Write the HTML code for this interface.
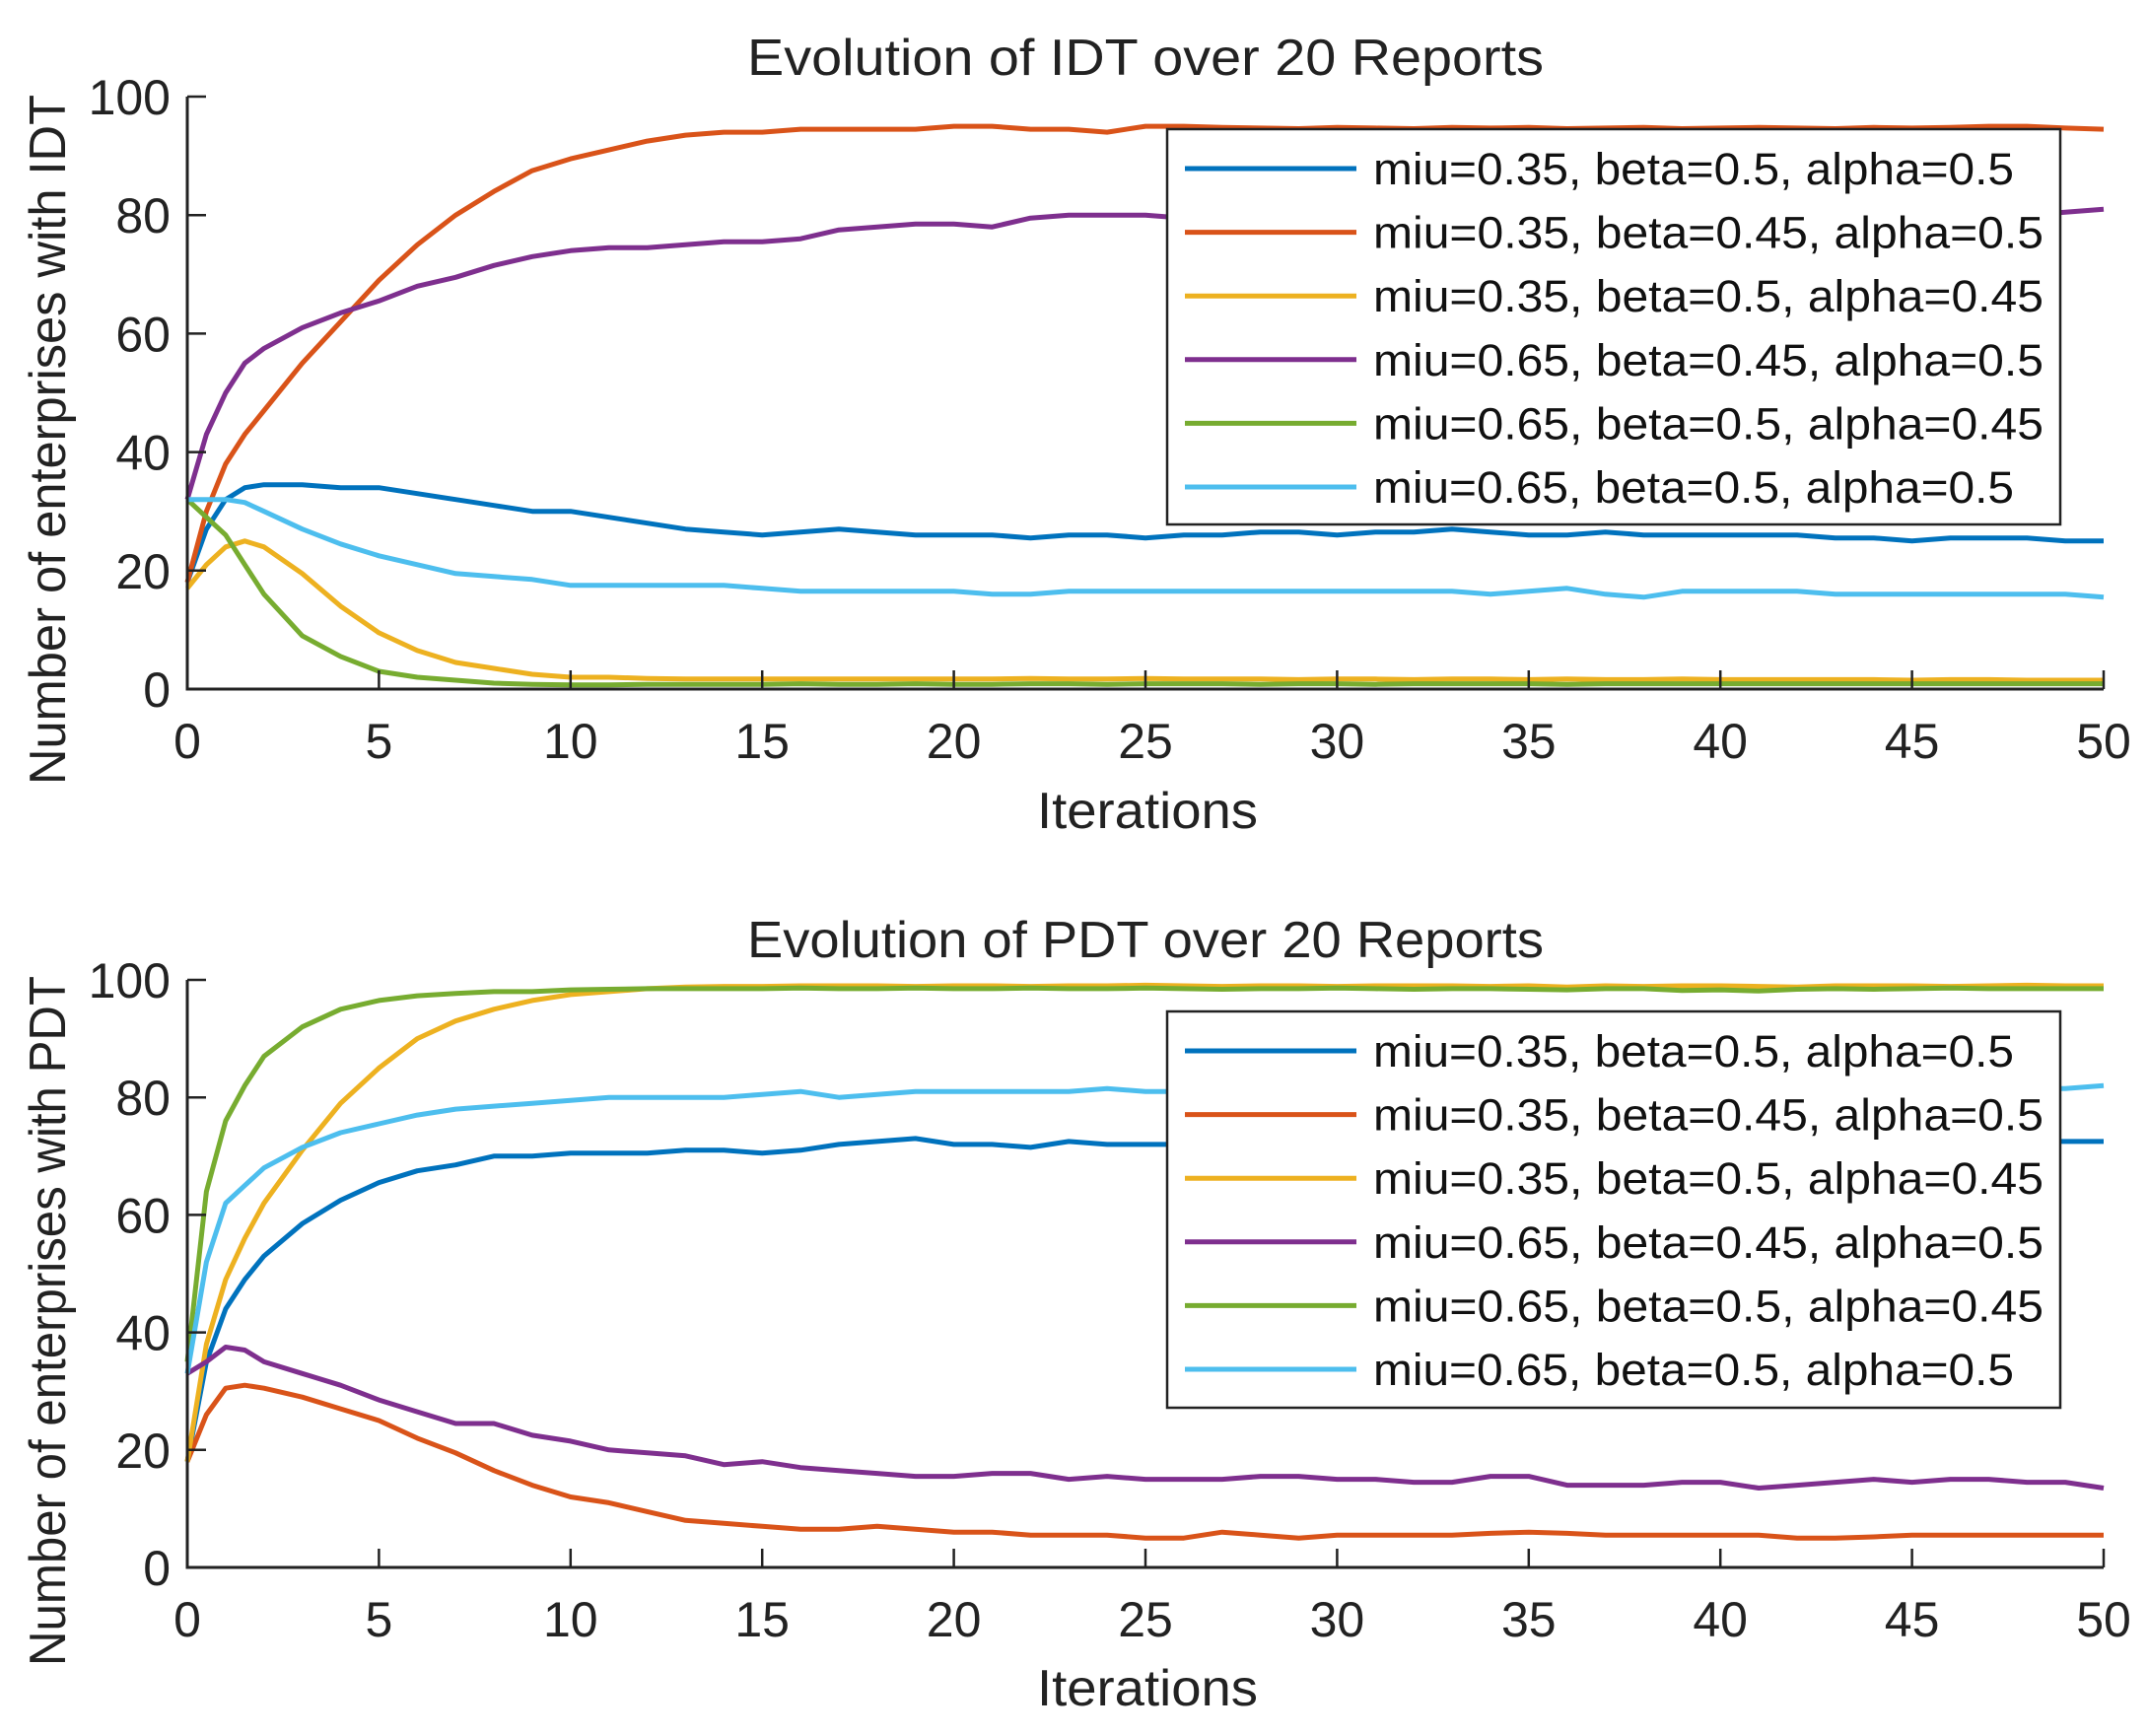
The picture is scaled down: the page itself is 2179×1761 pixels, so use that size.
<!DOCTYPE html>
<html><head><meta charset="utf-8"><style>
html,body{margin:0;padding:0;background:#fff;}
svg{display:block;font-family:"Liberation Sans",Arial,sans-serif;}
</style></head><body>
<svg id="chart" width="2179" height="1761" viewBox="0 0 2179 1761" xmlns="http://www.w3.org/2000/svg"></svg>
<script>
const xs=[0,0.5,1,1.5,2,3,4,5,6,7,8,9,10,11,12,13,14,15,16,17,18,19,20,21,22,23,24,25,26,27,28,29,30,31,32,33,34,35,36,37,38,39,40,41,42,43,44,45,46,47,48,49,50];
const seriesLabels=["miu=0.35, beta=0.5, alpha=0.5","miu=0.35, beta=0.45, alpha=0.5","miu=0.35, beta=0.5, alpha=0.45","miu=0.65, beta=0.45, alpha=0.5","miu=0.65, beta=0.5, alpha=0.45","miu=0.65, beta=0.5, alpha=0.5"];
const colors=["#0072BD","#D95319","#EDB120","#7E2F8E","#77AC30","#4DBEEE"];
const xTicks=[0,5,10,15,20,25,30,35,40,45,50];
const yTicks=[0,20,40,60,80,100];
// IDT
const idtBlue=[18,27,32,34,34.5,34.5,34,34,33,32,31,30,30,29,28,27,26.5,26,26.5,27,26.5,26,26,26,25.5,26,26,25.5,26,26,26.5,26.5,26,26.5,26.5,27,26.5,26,26,26.5,26,26,26,26,26,25.5,25.5,25,25.5,25.5,25.5,25,25];
const idtOrange=[18,30,38,43,47,55,62,69,75,80,84,87.5,89.5,91,92.5,93.5,94,94,94.5,94.5,94.5,94.5,95,95,94.5,94.5,94,95,95,94.8,94.7,94.6,94.8,94.7,94.6,94.8,94.7,94.8,94.6,94.7,94.8,94.6,94.7,94.8,94.7,94.6,94.8,94.7,94.8,95,95,94.7,94.5];
const idtYellow=[17,21,24,25,24,19.5,14,9.5,6.5,4.5,3.5,2.5,2,2,1.8,1.7,1.7,1.7,1.7,1.7,1.7,1.7,1.7,1.7,1.8,1.7,1.7,1.8,1.7,1.7,1.7,1.6,1.7,1.7,1.6,1.7,1.7,1.6,1.7,1.6,1.6,1.7,1.6,1.6,1.6,1.6,1.6,1.5,1.6,1.6,1.5,1.5,1.5];
const idtPurple=[32,43,50,55,57.5,61,63.5,65.5,68,69.5,71.5,73,74,74.5,74.5,75,75.5,75.5,76,77.5,78,78.5,78.5,78,79.5,80,80,80,79.5,79.5,80,80,79.5,80,80,80.5,80,80,80.5,80,80,80.5,80,80,80.5,80,80,80.5,80,80,80,80.5,81];
const idtGreen=[32,29,26,21,16,9,5.5,3,2,1.5,1,0.8,0.7,0.7,0.8,0.8,0.8,0.8,0.9,0.8,0.8,0.9,0.8,0.8,0.9,0.9,0.8,0.9,0.9,0.9,0.8,0.9,0.9,0.8,0.9,0.9,0.9,0.9,0.8,0.9,0.9,0.9,0.9,0.9,0.9,0.9,0.9,0.9,0.9,0.9,0.9,0.9,0.9];
const idtLight=[32,32,32,31.5,30,27,24.5,22.5,21,19.5,19,18.5,17.5,17.5,17.5,17.5,17.5,17,16.5,16.5,16.5,16.5,16.5,16,16,16.5,16.5,16.5,16.5,16.5,16.5,16.5,16.5,16.5,16.5,16.5,16,16.5,17,16,15.5,16.5,16.5,16.5,16.5,16,16,16,16,16,16,16,15.5];
// PDT
const pdtBlue=[18,35,44,49,53,58.5,62.5,65.5,67.5,68.5,70,70,70.5,70.5,70.5,71,71,70.5,71,72,72.5,73,72,72,71.5,72.5,72,72,72,72,72.5,72,72,72.5,72,72,72.5,72,72,72.5,72,72,72.5,72,72,72.5,72,72,72.5,72,72.5,72.5,72.5];
const pdtOrange=[18,26,30.5,31,30.5,29,27,25,22,19.5,16.5,14,12,11,9.5,8,7.5,7,6.5,6.5,7,6.5,6,6,5.5,5.5,5.5,5,5,6,5.5,5,5.5,5.5,5.5,5.5,5.8,6,5.8,5.5,5.5,5.5,5.5,5.5,5,5,5.2,5.5,5.5,5.5,5.5,5.5,5.5];
const pdtYellow=[18,38,49,56,62,71,79,85,90,93,95,96.5,97.5,98,98.5,98.8,98.9,98.9,99,99,99,98.9,99,99,98.9,99,99,99.1,99,98.9,99,99,98.9,99,99,99,98.9,99,98.8,99,98.9,99,99,98.9,98.8,99,99,99,98.9,99,99.1,99,99];
const pdtPurple=[33,35,37.5,37,35,33,31,28.5,26.5,24.5,24.5,22.5,21.5,20,19.5,19,17.5,18,17,16.5,16,15.5,15.5,16,16,15,15.5,15,15,15,15.5,15.5,15,15,14.5,14.5,15.5,15.5,14,14,14,14.5,14.5,13.5,14,14.5,15,14.5,15,15,14.5,14.5,13.5];
const pdtGreen=[35,64,76,82,87,92,95,96.5,97.3,97.7,98,98,98.3,98.4,98.5,98.5,98.5,98.5,98.6,98.5,98.5,98.6,98.5,98.5,98.6,98.5,98.5,98.6,98.5,98.4,98.5,98.5,98.6,98.5,98.4,98.5,98.5,98.4,98.3,98.5,98.5,98.2,98.3,98.1,98.4,98.5,98.4,98.5,98.6,98.5,98.5,98.5,98.5];
const pdtLight=[33,52,62,65,68,71.5,74,75.5,77,78,78.5,79,79.5,80,80,80,80,80.5,81,80,80.5,81,81,81,81,81,81.5,81,81,81,81,81.5,81,81,81,81.5,81,81,81,81.5,81,81,81,81,81.5,81,81,81,81.5,81.5,81.5,81.5,82];

const svg=document.getElementById('chart');
const NS='http://www.w3.org/2000/svg';
function mk(tag,attrs,parent,text){const e=document.createElementNS(NS,tag);for(const k in attrs)e.setAttribute(k,attrs[k]);if(text!==undefined)e.textContent=text;(parent||svg).appendChild(e);return e;}

function panel(cfg){
  const L=190,R=2134,T=cfg.top,B=cfg.bottom;
  const sx=v=>L+(v-0)/(50-0)*(R-L);
  const sy=v=>B-(v-0)/(100-0)*(B-T);
  const g=mk('g',{});
  
  
  const t=mk('text',{x:(L+R)/2,y:cfg.titleY,'text-anchor':'middle','font-size':52,fill:'#222',textLength:808,lengthAdjust:'spacingAndGlyphs'},g,cfg.title);
  
  
  cfg.series.forEach((arr,i)=>{
    const d=arr.map((v,j)=>(j?'L':'M')+sx(xs[j]).toFixed(1)+','+sy(v).toFixed(1)).join(' ');
    const p=mk('path',{d:d,fill:'none',stroke:colors[i],'stroke-width':5,'stroke-linejoin':'round'},g);
    
    
  });
  const ax=mk('path',{d:`M${L},${T} L${L},${B} L${R},${B}`,fill:'none',stroke:'#222','stroke-width':3},g);
  
  
  xTicks.forEach(v=>{
    mk('line',{x1:sx(v),x2:sx(v),y1:B,y2:B-19,stroke:'#222','stroke-width':2.5},g);
    const tl=mk('text',{x:sx(v),y:B+70,'text-anchor':'middle','font-size':50,fill:'#222'},g,String(v));
    
    
  });
  yTicks.forEach(v=>{
    mk('line',{x1:L,x2:L+19,y1:sy(v),y2:sy(v),stroke:'#222','stroke-width':2.5},g);
    const tl=mk('text',{x:173,y:sy(v)+18,'text-anchor':'end','font-size':50,fill:'#222'},g,String(v));
    
    
  });
  const xl=mk('text',{x:1164,y:cfg.xLabelY,'text-anchor':'middle','font-size':52,fill:'#222',textLength:224,lengthAdjust:'spacingAndGlyphs'},g,'Iterations');
  
  
  const yl=mk('text',{x:0,y:0,'text-anchor':'middle','font-size':52,fill:'#222',textLength:cfg.yLabelLen,lengthAdjust:'spacingAndGlyphs',transform:`translate(66,${cfg.yLabelC}) rotate(-90)`},g,cfg.yLabel);
  
  
  const lg=mk('g',{},g);
  
  
  mk('rect',{x:1184,y:cfg.legTop,width:906,height:cfg.legBottom-cfg.legTop,fill:'#fff',stroke:'#222','stroke-width':2.5},lg);
  seriesLabels.forEach((s,i)=>{
    const cy=cfg.legTop+40+i*64.6;
    const e=mk('g',{},lg);
    
    
    mk('line',{x1:1202,x2:1376,y1:cy,y2:cy,stroke:colors[i],'stroke-width':5},e);
    const w=[650,680,680,680,680,650][i];
    mk('text',{x:1393,y:cy+16,'font-size':45,fill:'#111',textLength:w,lengthAdjust:'spacingAndGlyphs'},e,s);
  });
}
panel({name:'idt-panel',top:98,bottom:699,title:'Evolution of IDT over 20 Reports',titleY:76,xLabelY:840,
  yLabel:'Number of enterprises with IDT',yLabelC:446,yLabelLen:700,legTop:131,legBottom:532,
  series:[idtBlue,idtOrange,idtYellow,idtPurple,idtGreen,idtLight]});
panel({name:'pdt-panel',top:994,bottom:1590,title:'Evolution of PDT over 20 Reports',titleY:971,xLabelY:1730,
  yLabel:'Number of enterprises with PDT',yLabelC:1340,yLabelLen:700,legTop:1026,legBottom:1428,
  series:[pdtBlue,pdtOrange,pdtYellow,pdtPurple,pdtGreen,pdtLight]});
</script>
</body></html>
